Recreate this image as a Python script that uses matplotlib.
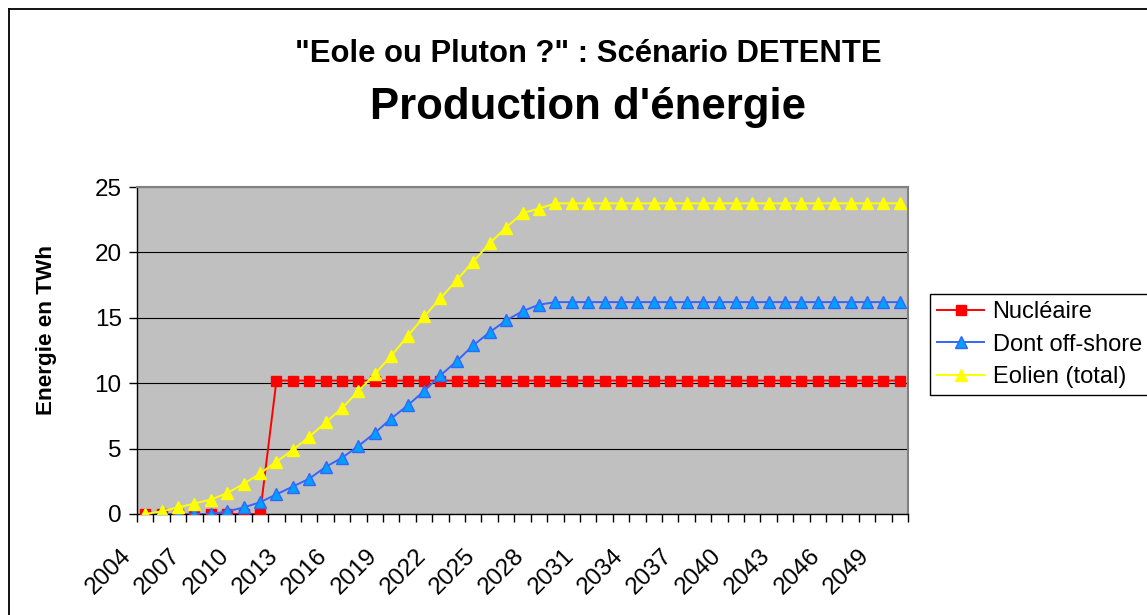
import matplotlib
matplotlib.use("Agg")
import matplotlib.pyplot as plt
from matplotlib.transforms import ScaledTranslation
from matplotlib.lines import Line2D

plt.rcParams['font.family'] = ['Liberation Sans', 'DejaVu Sans']

years = list(range(2004, 2051))
nucleaire = [0, 0, 0, 0, 0, 0, 0, 0,
             10.2, 10.2, 10.2, 10.2, 10.2, 10.2, 10.2, 10.2, 10.2, 10.2,
             10.2, 10.2, 10.2, 10.2, 10.2, 10.2, 10.2, 10.2, 10.2, 10.2,
             10.2, 10.2, 10.2, 10.2, 10.2, 10.2, 10.2, 10.2, 10.2, 10.2,
             10.2, 10.2, 10.2, 10.2, 10.2, 10.2, 10.2, 10.2, 10.2]
offshore = [0, 0, 0, 0, 0, 0.2, 0.5, 0.9, 1.5, 2.1, 2.7, 3.6, 4.3, 5.2,
            6.2, 7.3, 8.3, 9.4, 10.6, 11.7, 12.9, 13.9, 14.8, 15.5, 16.0,
            16.2, 16.2, 16.2, 16.2, 16.2, 16.2, 16.2, 16.2, 16.2, 16.2,
            16.2, 16.2, 16.2, 16.2, 16.2, 16.2, 16.2, 16.2, 16.2, 16.2,
            16.2, 16.2]
eolien = [0, 0.2, 0.5, 0.8, 1.1, 1.6, 2.3, 3.1, 4.0, 4.9, 5.9, 7.0, 8.1,
          9.4, 10.7, 12.1, 13.6, 15.1, 16.5, 17.9, 19.3, 20.7, 21.9, 23.0,
          23.35, 23.75, 23.75, 23.75, 23.75, 23.75, 23.75, 23.75, 23.75,
          23.75, 23.75, 23.75, 23.75, 23.75, 23.75, 23.75, 23.75, 23.75,
          23.75, 23.75, 23.75, 23.75, 23.75]
x_labels = [str(y) for y in range(2004, 2051, 3)]
y_ticks = [0, 5, 10, 15, 20, 25]
series_names = ["Nucléaire", "Dont off-shore", "Eolien (total)"]
title1 = '"Eole ou Pluton ?" : Scénario DETENTE'
title2 = "Production d'énergie"
ylabel = "Energie en TWh"

W, H = 1147, 615
fig = plt.figure(figsize=(W / 100, H / 100), dpi=100)
fig.patch.set_facecolor('white')

# outer chart border
fig.add_artist(Line2D([9 / W, 9 / W], [0, 1 - 9 / H], transform=fig.transFigure,
                      color='black', lw=1.3))
fig.add_artist(Line2D([9 / W, 1], [1 - 9 / H, 1 - 9 / H], transform=fig.transFigure,
                      color='black', lw=1.3))

L, R, T, B = 137, 908, 187, 514
ax = fig.add_axes([L / W, 1 - B / H, (R - L) / W, (B - T) / H])
ax.set_facecolor('#C0C0C0')

ax.plot(years, nucleaire, color='#FF0000', lw=1.4, marker='s', ms=7,
        mfc='#FF0000', mec='#FF0000', label=series_names[0], zorder=3)
ax.plot(years, offshore, color='#3366FF', lw=1.4, marker='^', ms=8.5,
        mfc='#00A0FF', mec='#3366FF', mew=1.0, label=series_names[1], zorder=4)
ax.plot(years, eolien, color='#FFFF00', lw=1.4, marker='^', ms=8.5,
        mfc='#FFFF00', mec='#FFFF00', label=series_names[2], zorder=5)

ax.set_xlim(2003.5, 2050.5)
ax.set_ylim(0, 25)
ax.set_yticks(y_ticks)
ax.set_yticklabels([str(v) for v in y_ticks], fontsize=17.5)
ax.yaxis.grid(True, color='black', lw=0.8)
ax.set_axisbelow(True)

ax.set_xticks(list(range(2004, 2051, 3)))
ax.set_xticklabels(x_labels, fontsize=17.5, rotation=45, ha='right')
ax.set_xticks([2003.5 + k for k in range(48)], minor=True)
ax.tick_params(axis='x', which='major', length=0, pad=22)
ax.tick_params(axis='x', which='minor', length=6, width=1, direction='out')
ax.tick_params(axis='y', length=6, width=1, pad=5, direction='out')

for lab in ax.get_xticklabels():
    lab.set_transform(lab.get_transform() + ScaledTranslation(-10 / 100, 0, fig.dpi_scale_trans))

for s in ['left', 'bottom']:
    ax.spines[s].set_color('black')
    ax.spines[s].set_linewidth(1)
for s in ['top', 'right']:
    ax.spines[s].set_color('#808080')
    ax.spines[s].set_linewidth(1.5)

leg = fig.legend(loc='upper left', bbox_to_anchor=(930 / W, 1 - 294 / H),
                 bbox_transform=fig.transFigure, fontsize=17, frameon=True,
                 fancybox=False, edgecolor='black', framealpha=1,
                 borderpad=0.3, handlelength=2.0, handletextpad=0.35,
                 labelspacing=0.45, borderaxespad=0, numpoints=1)
leg.get_frame().set_linewidth(1.0)

fig.text(588 / W, 1 - 62 / H, title1, ha='center', va='baseline',
         fontsize=22.3, fontweight='bold')
fig.text(588 / W, 1 - 119 / H, title2, ha='center', va='baseline',
         fontsize=31.5, fontweight='bold')
fig.text(47 / W, 1 - 330 / H, ylabel, rotation=90, ha='center', va='center',
         fontsize=16.2, fontweight='bold')

fig.savefig('out.png', dpi=100)
